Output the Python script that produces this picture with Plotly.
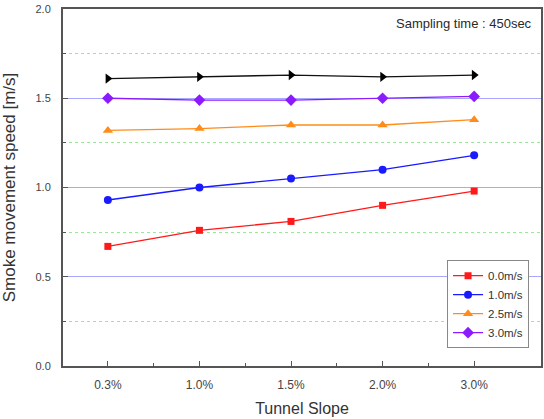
import plotly.graph_objects as go

slopes = ["0.3%", "1.0%", "1.5%", "2.0%", "3.0%"]
x_pos = [0, 1, 2, 3, 4]
black_vals = [1.61, 1.62, 1.63, 1.62, 1.63]
s00 = [0.67, 0.76, 0.81, 0.90, 0.98]
s10 = [0.93, 1.00, 1.05, 1.10, 1.18]
s25 = [1.32, 1.33, 1.35, 1.35, 1.38]
s30 = [1.50, 1.49, 1.49, 1.50, 1.51]

fig = go.Figure()
fig.add_trace(go.Scatter(x=x_pos, y=black_vals, mode="lines+markers", showlegend=False,
                         line=dict(color="#111111", width=1.3),
                         marker=dict(symbol="triangle-right", size=9, color="#000000")))
series = [
    ("0.0m/s", s00, "#ff1a1a", "square", 7),
    ("1.0m/s", s10, "#1a1aff", "circle", 8),
    ("2.5m/s", s25, "#ff8c1a", "triangle-up", 9),
    ("3.0m/s", s30, "#8c1aff", "diamond", 9),
]
for name, vals, col, sym, sz in series:
    fig.add_trace(go.Scatter(x=x_pos, y=vals, mode="lines+markers", name=name,
                             line=dict(color=col, width=1.3),
                             marker=dict(symbol=sym, size=sz, color=col)))

fig.add_annotation(text="Sampling time : 450sec", xref="paper", yref="paper",
                   x=0.985, y=0.985, xanchor="right", yanchor="top", showarrow=False,
                   font=dict(family="Arial, Liberation Sans", size=13, color="#2a2a2a"))

axis_line = dict(showline=True, linecolor="#555555", linewidth=2, mirror=True)
fig.update_xaxes(range=[-0.49, 4.73], tickmode="array", tickvals=x_pos, ticktext=slopes,
                 ticks="inside", ticklen=5, tickcolor="#555555", showgrid=False, zeroline=False,
                 ticklabelstandoff=7,
                 minor=dict(tickmode="array", tickvals=[0.5, 1.5, 2.5, 3.5], ticks="inside",
                            ticklen=3, tickcolor="#555555"),
                 title=dict(text="Tunnel Slope", font=dict(size=16, color="#333333"), standoff=11),
                 tickfont=dict(size=12, color="#444444"), **axis_line)
fig.update_yaxes(range=[0, 2.0], tickmode="array", tickvals=[0, 0.5, 1.0, 1.5, 2.0],
                 ticktext=["0.0", "0.5", "1.0", "1.5", "2.0"],
                 ticks="inside", ticklen=5, tickcolor="#555555", showgrid=True,
                 gridcolor="#a8a8ff", gridwidth=1, zeroline=False,
                 ticklabelstandoff=8,
                 minor=dict(tickmode="array", tickvals=[0.25, 0.75, 1.25, 1.75], ticks="inside",
                            ticklen=3, tickcolor="#555555", showgrid=True,
                            gridcolor="#9be89b", griddash="dot", gridwidth=1),
                 title=dict(text="Smoke movement speed [m/s]", font=dict(size=17, color="#333333"), standoff=20),
                 tickfont=dict(size=11, color="#444444"), **axis_line)

fig.update_layout(width=544, height=419, margin=dict(l=63, r=1, t=9, b=53),
                  plot_bgcolor="white", paper_bgcolor="white",
                  font=dict(family="Arial, Liberation Sans"),
                  legend=dict(x=0.975, y=0.05, xanchor="right", yanchor="bottom",
                              bordercolor="#888888", borderwidth=1, bgcolor="white",
                              font=dict(size=11.5, color="#333333"), tracegroupgap=0,
                              itemwidth=30))
fig.write_html("out.html")
